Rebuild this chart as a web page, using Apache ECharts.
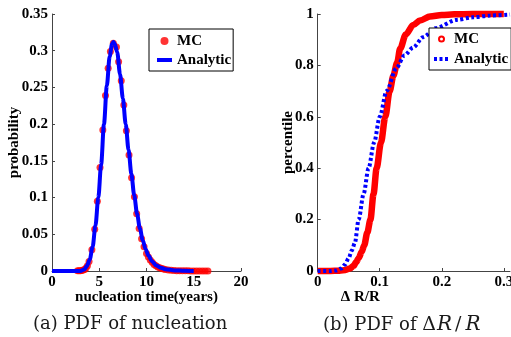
<!DOCTYPE html>
<html>
<head>
<meta charset="utf-8">
<script src="https://cdn.jsdelivr.net/npm/echarts@6/dist/echarts.min.js"></script>
<style>
html,body{margin:0;padding:0;background:#fff;}
#wrap{position:relative;width:511px;height:337px;overflow:hidden;}
#left{position:absolute;left:0;top:0;width:255px;height:337px;}
#right{position:absolute;left:255px;top:0;width:256px;height:337px;}
</style>
</head>
<body>
<div id="wrap"><div id="left"></div><div id="right"></div></div>
<script>
// ---- Panel (a): PDF of nucleation time ----
const mcTime = [2.7, 2.85, 3.0, 3.15, 3.3, 3.45, 3.6, 3.75, 3.92, 4.22, 4.52, 4.8, 5.08, 5.38, 5.66, 5.94, 6.18, 6.49, 6.82, 7.05, 7.33, 7.6, 7.87, 8.15, 8.42, 8.72, 8.96, 9.22, 9.48, 9.74, 10.0, 10.2, 10.4, 10.6, 10.8, 11.0, 11.2, 11.4, 11.6, 11.8, 12.0, 12.3, 12.6, 12.9, 13.2, 13.5, 13.8, 14.1, 14.4, 14.7, 15.0, 15.3, 15.6, 15.9, 16.2, 16.5];
const mcProb = [0.0002, 0.0003, 0.0005, 0.0008, 0.0013, 0.002, 0.004, 0.007, 0.013, 0.029, 0.057, 0.095, 0.141, 0.192, 0.239, 0.276, 0.299, 0.31, 0.305, 0.285, 0.259, 0.226, 0.191, 0.158, 0.127, 0.101, 0.078, 0.058, 0.044, 0.033, 0.024, 0.019, 0.015, 0.012, 0.009, 0.007, 0.0055, 0.0043, 0.0033, 0.0026, 0.002, 0.0014, 0.001, 0.0007, 0.0005, 0.0004, 0.0003, 0.0002, 0.0002, 0.0001, 0.0001, 0.0001, 0.0001, 0, 0, 0];
const anTime = [0, 3.0, 3.4, 3.7, 4.0, 4.3, 4.6, 4.9, 5.2, 5.5, 5.8, 6.1, 6.35, 6.5, 6.65, 6.9, 7.2, 7.5, 7.8, 8.1, 8.4, 8.7, 9.0, 9.3, 9.6, 9.9, 10.2, 10.6, 11.0, 11.5, 12.0, 13.0, 14.0, 15.0];
const anProb = [0, 0, 0.002, 0.007, 0.016, 0.033, 0.062, 0.1, 0.145, 0.2, 0.252, 0.292, 0.309, 0.312, 0.309, 0.298, 0.268, 0.235, 0.2, 0.165, 0.132, 0.103, 0.078, 0.058, 0.042, 0.03, 0.021, 0.013, 0.008, 0.0045, 0.0025, 0.0008, 0.0003, 0];
const leftXTicks = {min: 0, max: 20, interval: 5};
const leftYTicks = {min: 0, max: 0.35, interval: 0.05};

// ---- Panel (b): percentile of dR/R ----
const mcDR = [0, 0.02, 0.035, 0.045, 0.052, 0.058, 0.062, 0.066, 0.071, 0.075, 0.08, 0.085, 0.09, 0.095, 0.102, 0.109, 0.116, 0.122, 0.128, 0.133, 0.142, 0.154, 0.165, 0.181, 0.2, 0.22, 0.25, 0.28, 0.3];
const mcPct = [0, 0, 0.001, 0.004, 0.01, 0.02, 0.035, 0.05, 0.075, 0.1, 0.15, 0.2, 0.3, 0.4, 0.5, 0.6, 0.7, 0.76, 0.81, 0.866, 0.92, 0.957, 0.975, 0.99, 0.996, 0.999, 1, 1, 1];
const anDR = [0, 0.02, 0.03, 0.038, 0.044, 0.05, 0.055, 0.06, 0.066, 0.074, 0.082, 0.091, 0.1, 0.111, 0.127, 0.14, 0.154, 0.17, 0.19, 0.224, 0.25, 0.278, 0.31];
const anPct = [0, 0, 0.002, 0.01, 0.025, 0.05, 0.08, 0.11, 0.2, 0.3, 0.4, 0.5, 0.6, 0.7, 0.79, 0.84, 0.87, 0.91, 0.945, 0.977, 0.987, 0.994, 0.998];
const rightXTicks = {min: 0, max: 0.31, interval: 0.1};
const rightYTicks = {min: 0, max: 1, interval: 0.2};

const FONT = 'Liberation Serif';
const zip = (a, b) => a.map((v, i) => [v, b[i]]);

function axisCommon(extra) {
  return Object.assign({
    type: 'value',
    splitLine: {show: false},
    axisLine: {show: true, onZero: false, lineStyle: {color: '#444', width: 1}},
    axisTick: {show: true, inside: true, length: 3, lineStyle: {color: '#444'}},
    axisLabel: {color: '#000', fontFamily: FONT, fontWeight: 'bold', fontSize: 15, margin: 4},
    nameLocation: 'middle',
    nameMoveOverlap: false,
    nameTextStyle: {color: '#000', fontFamily: FONT, fontWeight: 'bold', fontSize: 15}
  }, extra);
}

const left = echarts.init(document.getElementById('left'), null, {renderer: 'canvas'});
left.setOption({
  animation: false,
  backgroundColor: '#fff',
  title: {
    text: '(a) PDF of nucleation',
    left: 33, top: 315, padding: 0,
    textStyle: {fontFamily: 'DejaVu Serif', fontWeight: 'normal', fontSize: 18, color: '#1a1a1a'}
  },
  grid: {left: 52, right: 14, top: 14, bottom: 66, outerBoundsMode: 'none', containLabel: false},
  xAxis: axisCommon(Object.assign({name: 'nucleation time(years)', nameGap: 19}, leftXTicks)),
  yAxis: axisCommon(Object.assign({name: 'probability', nameGap: 30}, leftYTicks)),
  legend: {
    left: 149, top: 29, orient: 'vertical',
    padding: [4, 2, 3, 6], itemGap: 3, itemWidth: 15, itemHeight: 8,
    backgroundColor: '#fff', borderColor: '#000', borderWidth: 1,
    lineStyle: {width: 4},
    textStyle: {fontFamily: FONT, fontWeight: 'bold', fontSize: 15, color: '#000', lineHeight: 16},
    data: ['MC', {name: 'Analytic', itemStyle: {opacity: 0}}]
  },
  series: [
    {name: 'MC', type: 'scatter', data: zip(mcTime, mcProb), symbol: 'circle', symbolSize: 7,
     itemStyle: {color: '#ff0000'}, clip: false},
    {name: 'Analytic', type: 'line', data: zip(anTime, anProb), symbol: 'none', smooth: 0.3, smoothMonotone: 'x',
     lineStyle: {color: '#0000ff', width: 4}, itemStyle: {color: '#0000ff'}, clip: false}
  ]
});

const right = echarts.init(document.getElementById('right'), null, {renderer: 'canvas'});
right.setOption({
  animation: false,
  backgroundColor: '#fff',
  title: {
    text: '(b) PDF of {d|Δ}{i|R}{s|/}{i|R}',
    left: 68, top: 315, padding: 0,
    textStyle: {
      fontFamily: 'DejaVu Serif', fontWeight: 'normal', fontSize: 18, color: '#1a1a1a',
      rich: {
        d: {fontFamily: 'DejaVu Serif', fontSize: 19, color: '#1a1a1a', padding: [0, 1, 0, 0]},
        s: {fontFamily: 'DejaVu Serif', fontSize: 19, color: '#1a1a1a', padding: [0, 4, 0, 3]},
        i: {fontFamily: 'DejaVu Serif', fontStyle: 'italic', fontSize: 20, color: '#1a1a1a'}
      }
    }
  },
  grid: {left: 62.7, right: 1, top: 14, bottom: 66, outerBoundsMode: 'none', containLabel: false},
  xAxis: axisCommon(Object.assign({
    name: 'Δ R/R', nameGap: 19,
    nameTextStyle: {color: '#000', fontFamily: FONT, fontWeight: 'bold', fontSize: 15, padding: [0, 107, 0, 0]},
    axisLabel: {color: '#000', fontFamily: FONT, fontWeight: 'bold', fontSize: 15, margin: 4, showMaxLabel: false}
  }, rightXTicks)),
  yAxis: axisCommon(Object.assign({name: 'percentile', nameGap: 22}, rightYTicks)),
  legend: {
    left: 174, top: 28, orient: 'vertical',
    padding: [3, 3, 3, 3], itemGap: 4, itemWidth: 15, itemHeight: 5,
    backgroundColor: '#fff', borderColor: '#000', borderWidth: 1,
    lineStyle: {width: 4},
    textStyle: {fontFamily: FONT, fontWeight: 'bold', fontSize: 15, color: '#000', lineHeight: 16},
    data: [{name: 'MC', icon: 'emptyCircle'}, {name: 'Analytic', itemStyle: {opacity: 0}}]
  },
  series: [
    {name: 'MC', type: 'line', data: zip(mcDR, mcPct), symbol: 'none',
     smooth: 0.3, smoothMonotone: 'x',
     lineStyle: {color: '#ff0000', width: 6.5}, itemStyle: {color: '#ff0000'}, clip: false},
    {name: 'Analytic', type: 'line', data: zip(anDR, anPct), symbol: 'none', smooth: 0.3, smoothMonotone: 'x',
     lineStyle: {color: '#0000ff', width: 4, type: [3, 2.5], cap: 'butt'}, itemStyle: {color: '#0000ff'}, clip: false}
  ]
});
</script>
</body>
</html>
